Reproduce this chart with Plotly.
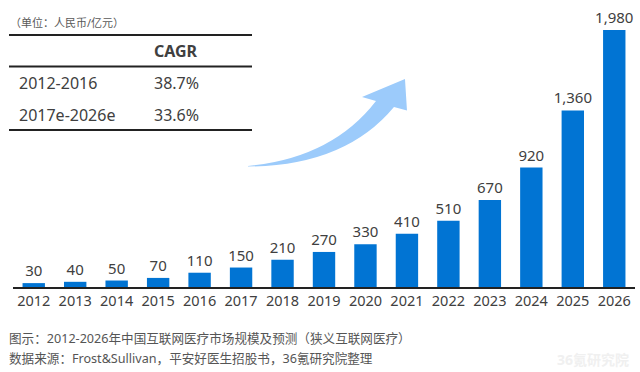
import plotly.graph_objects as go

years = ["2012", "2013", "2014", "2015", "2016", "2017", "2018", "2019",
         "2020", "2021", "2022", "2023", "2024", "2025", "2026"]
market_size = [30, 40, 50, 70, 110, 150, 210, 270, 330, 410, 510, 670, 920, 1360, 1980]

table_header = ["", "CAGR"]
table_periods = ["2012-2016", "2017e-2026e"]
table_cagr = ["38.7%", "33.6%"]
unit_note = "（单位：人民币/亿元）"
caption_1 = "图示：2012-2026年中国互联网医疗市场规模及预测（狭义互联网医疗）"
caption_2 = "数据来源：Frost&Sullivan，平安好医生招股书，36氪研究院整理"
watermark = "36氪研究院"

W, H = 640, 372
L, R, T, B = 13, 5, 27, 85
PW, PH = W - L - R, H - T - B


def px(x):
    return (x - L) / PW


def py(y):
    return (H - B - y) / PH


FONT = "Noto Sans, Noto Sans CJK SC, sans-serif"
TXT = "#404040"

fig = go.Figure(go.Bar(
    x=years, y=market_size,
    marker=dict(color="#0174D3", line=dict(width=0)),
    texttemplate="%{y:,}", textposition="outside", constraintext="none",
    textfont=dict(size=15, color=TXT, family=FONT),
    cliponaxis=False, width=0.54,
))

shapes = []
# table lines
for yy in (35, 66.5, 130):
    shapes.append(dict(type="line", xref="paper", yref="paper",
                       x0=px(9), x1=px(252), y0=py(yy), y1=py(yy),
                       line=dict(color="#222222", width=2)))

# curved arrow (decoration)
path = "M %.4f,%.4f" % (px(248), py(166))
path += " Q %.4f,%.4f %.4f,%.4f" % (px(332), py(158), px(376), py(101))
for (a, b) in [(362, 97), (405, 79), (407, 110.5), (394, 107)]:
    path += " L %.4f,%.4f" % (px(a), py(b))
path += " Q %.4f,%.4f %.4f,%.4f Z" % (px(345), py(166), px(248), py(166.5))
shapes.append(dict(type="path", xref="paper", yref="paper", path=path,
                   fillcolor="#9CCBFB", line=dict(width=0), layer="above"))

annotations = [
    dict(text=unit_note, x=px(8), y=py(22), xanchor="left", yanchor="middle",
         font=dict(size=11, color="#595959", family=FONT)),
    dict(text="<b>%s</b>" % table_header[1], x=px(152), y=py(51), xanchor="left", yanchor="middle",
         font=dict(size=16, color=TXT, family=FONT)),
]
for i, (p, c) in enumerate(zip(table_periods, table_cagr)):
    yy = 83 + i * 32
    annotations.append(dict(text=p, x=px(17), y=py(yy), xanchor="left", yanchor="middle",
                            font=dict(size=16, color=TXT, family=FONT)))
    annotations.append(dict(text=c, x=px(152), y=py(yy), xanchor="left", yanchor="middle",
                            font=dict(size=16, color=TXT, family=FONT)))
annotations.append(dict(text=caption_1, x=px(7), y=py(338), xanchor="left", yanchor="middle",
                        font=dict(size=12.6, color="#555555", family=FONT)))
annotations.append(dict(text=caption_2, x=px(7), y=py(358), xanchor="left", yanchor="middle",
                        font=dict(size=12.6, color="#555555", family=FONT)))
annotations.append(dict(text="<b>%s</b>" % watermark, x=px(555), y=py(371), xanchor="left", yanchor="bottom",
                        font=dict(size=14, color="#F0F0F0", family=FONT)))
for a in annotations:
    a.update(xref="paper", yref="paper", showarrow=False)

fig.update_layout(
    width=W, height=H,
    margin=dict(l=L, r=R, t=T, b=B, pad=0),
    paper_bgcolor="white", plot_bgcolor="white",
    showlegend=False,
    shapes=shapes, annotations=annotations,
    xaxis=dict(showline=True, linecolor="#222222", linewidth=2, ticks="",
               tickfont=dict(size=14.5, color=TXT, family=FONT), showgrid=False,
               fixedrange=True),
    yaxis=dict(range=[0, 2003], visible=False, showgrid=False, fixedrange=True),
    font=dict(family=FONT),
)

fig.write_html("out.html", config=dict(displayModeBar=False),
               post_script="document.body.style.margin='0';document.body.style.overflow='hidden';")
